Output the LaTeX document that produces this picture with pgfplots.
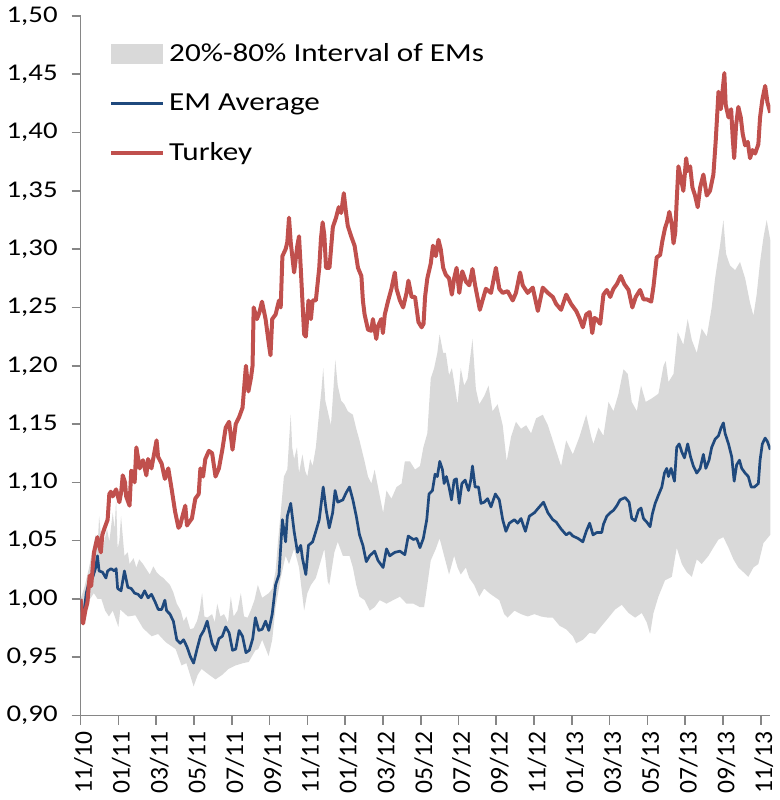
\documentclass[border=0pt]{standalone}
\usepackage{fontspec}
\setmainfont{Carlito}
\newfontfamily\widefont{Carlito}[FakeStretch=1.2]
\usepackage{pgfplots}
\pgfplotsset{compat=1.18}
\usepgfplotslibrary{fillbetween}
\definecolor{turk}{HTML}{C0504D}
\definecolor{emavg}{HTML}{1F497D}
\definecolor{band}{HTML}{D9D9D9}
\definecolor{axgray}{HTML}{868686}
\begin{document}
\begin{tikzpicture}
\begin{axis}[
  scale only axis, width=345.25pt, height=350.25pt,
  xmin=0, xmax=36.5, ymin=0.9, ymax=1.5,
  axis x line*=bottom, axis y line*=left,
  axis line style={axgray, line width=0.8pt, -},
  tick style={axgray, line width=0.8pt},
  tick align=outside, major tick length=4.5pt,
  xtick={0,2,...,36},
  xticklabels={11/10,01/11,03/11,05/11,07/11,09/11,11/11,01/12,03/12,05/12,07/12,09/12,11/12,01/13,03/13,05/13,07/13,09/13,11/13},
  xticklabel style={rotate=90, anchor=east, font=\fontsize{12.8}{14}\selectfont, text=black, yshift=-1.5pt},
  ytick={0.90,0.95,1.00,1.05,1.10,1.15,1.20,1.25,1.30,1.35,1.40,1.45,1.50},
  yticklabel style={font=\widefont\fontsize{12}{14}\selectfont, text=black, xshift=-3.5pt, /pgf/number format/fixed, /pgf/number format/fixed zerofill, /pgf/number format/precision=2, /pgf/number format/use comma},
  /pgf/number format/assume math mode=true,
  legend style={at={(axis description cs:0.041,0.967)}, anchor=north west, draw=none, fill=none, inner sep=0pt, font=\widefont\fontsize{13}{15}\selectfont, row sep=10.5pt},
  legend cell align=left,
  legend image code/.code={\draw[#1] (0pt,0pt) -- (26pt,0pt);},
]
\addplot[name path=up, draw=none, forget plot] coordinates {
(0,1.0)(0.2,1.01)(0.45,1.027)(0.6,1.04)(0.8,1.055)(0.9,1.045)(0.98,1.071)(1.1,1.05)(1.16,1.043)(1.4,1.06)(1.52,1.049)(1.7,1.074)(1.8,1.06)(1.88,1.086)(1.96,1.043)(2.05,1.05)(2.14,1.071)(2.32,1.037)(2.5,1.04)(2.59,1.03)(2.8,1.035)(2.95,1.027)(3.1,1.034)(3.3,1.03)(3.5,1.025)(3.66,1.021)(3.85,1.028)(4.02,1.023)(4.2,1.02)(4.38,1.018)(4.55,1.015)(4.73,1.012)(4.9,1.006)(5.09,0.996)(5.3,0.99)(5.45,0.981)(5.6,0.985)(5.8,0.974)(5.98,0.975)(6.16,0.981)(6.3,0.99)(6.43,1.005)(6.55,0.985)(6.7,0.984)(6.96,0.987)(7.1,0.98)(7.23,0.996)(7.4,0.985)(7.59,0.987)(7.8,0.98)(7.95,1.002)(8.1,0.985)(8.3,0.99)(8.48,1.005)(8.65,0.985)(8.84,0.984)(9.0,0.99)(9.2,0.999)(9.38,1.012)(9.61,1.001)(9.96,1.005)(10.15,1.009)(10.32,1.024)(10.45,1.05)(10.59,1.074)(10.76,1.105)(10.94,1.111)(11.05,1.14)(11.12,1.158)(11.2,1.13)(11.3,1.12)(11.45,1.13)(11.56,1.108)(11.74,1.124)(11.88,1.11)(12.0,1.105)(12.15,1.12)(12.28,1.114)(12.45,1.13)(12.63,1.161)(12.75,1.18)(12.84,1.198)(12.95,1.17)(13.08,1.161)(13.25,1.149)(13.38,1.18)(13.48,1.205)(13.61,1.183)(13.79,1.17)(13.96,1.167)(14.14,1.161)(14.41,1.158)(14.59,1.146)(14.76,1.136)(15.03,1.118)(15.21,1.105)(15.39,1.099)(15.56,1.111)(15.74,1.096)(16.01,1.074)(16.19,1.093)(16.45,1.086)(16.72,1.096)(16.99,1.099)(17.16,1.118)(17.43,1.118)(17.7,1.111)(17.96,1.114)(18.14,1.13)(18.35,1.142)(18.53,1.189)(18.71,1.198)(18.88,1.211)(19.0,1.227)(19.19,1.211)(19.33,1.211)(19.5,1.192)(19.65,1.198)(19.77,1.186)(19.95,1.167)(20.12,1.198)(20.3,1.183)(20.48,1.189)(20.65,1.211)(20.74,1.223)(20.92,1.18)(21.1,1.167)(21.36,1.174)(21.59,1.183)(21.8,1.161)(22.07,1.167)(22.34,1.149)(22.55,1.118)(22.78,1.139)(23.04,1.152)(23.31,1.146)(23.58,1.149)(23.84,1.142)(24.11,1.155)(24.46,1.158)(24.73,1.149)(24.99,1.136)(25.17,1.127)(25.43,1.114)(25.7,1.136)(26.05,1.124)(26.4,1.139)(26.76,1.158)(27.03,1.139)(27.14,1.133)(27.41,1.147)(27.67,1.14)(27.94,1.169)(28.2,1.161)(28.47,1.176)(28.73,1.197)(28.96,1.193)(29.17,1.169)(29.44,1.161)(29.66,1.183)(29.91,1.169)(30.23,1.172)(30.58,1.176)(30.85,1.2)(30.97,1.204)(31.11,1.186)(31.38,1.193)(31.6,1.229)(31.9,1.218)(32.13,1.24)(32.35,1.222)(32.61,1.211)(32.87,1.232)(33.14,1.225)(33.4,1.25)(33.58,1.275)(33.84,1.303)(34.02,1.325)(34.16,1.296)(34.37,1.286)(34.64,1.282)(34.9,1.289)(35.17,1.275)(35.43,1.254)(35.61,1.243)(35.78,1.261)(35.96,1.289)(36.14,1.31)(36.31,1.325)(36.5,1.308)
};
\addplot[name path=lo, draw=none, forget plot] coordinates {
(0,1.0)(0.15,0.985)(0.3,0.99)(0.5,1.0)(0.7,1.005)(0.9,1.0)(1.1,1.0)(1.3,0.99)(1.5,0.985)(1.7,0.99)(2.0,0.976)(2.1,0.991)(2.5,0.985)(2.9,0.986)(3.3,0.975)(3.76,0.968)(4.1,0.97)(4.5,0.963)(5.03,0.957)(5.34,0.943)(5.6,0.945)(5.98,0.925)(6.2,0.935)(6.4,0.94)(6.8,0.935)(7.14,0.931)(7.5,0.935)(7.83,0.94)(8.2,0.943)(8.6,0.945)(8.9,0.946)(9.25,0.956)(9.4,0.957)(9.61,0.965)(9.95,0.951)(10.14,0.965)(10.32,0.993)(10.59,1.018)(10.85,1.037)(11.03,1.03)(11.3,1.043)(11.56,1.027)(11.83,0.99)(12.0,1.005)(12.19,1.012)(12.45,1.018)(12.72,1.033)(12.9,1.043)(13.08,1.015)(13.16,1.012)(13.43,1.04)(13.61,1.049)(13.88,1.037)(14.23,1.037)(14.41,1.027)(14.59,1.012)(14.76,1.002)(15.03,0.999)(15.3,0.99)(15.56,0.993)(15.83,0.999)(16.19,0.996)(16.54,0.999)(16.9,1.002)(17.25,0.996)(17.61,0.996)(17.96,0.993)(18.18,0.993)(18.35,1.012)(18.53,1.033)(18.8,1.043)(19.0,1.052)(19.24,1.037)(19.5,1.021)(19.77,1.037)(19.95,1.027)(20.12,1.021)(20.39,1.027)(20.57,1.018)(20.83,1.012)(21.1,1.002)(21.36,1.009)(21.63,1.005)(21.89,1.002)(22.16,0.999)(22.42,0.987)(22.6,0.984)(22.96,0.99)(23.31,0.987)(23.66,0.985)(24.02,0.987)(24.37,0.985)(24.73,0.984)(24.99,0.984)(25.35,0.977)(25.7,0.974)(26.05,0.968)(26.23,0.962)(26.58,0.965)(26.94,0.971)(27.23,0.97)(27.58,0.977)(27.94,0.984)(28.29,0.991)(28.64,0.995)(29.0,0.988)(29.35,0.984)(29.7,0.988)(29.96,0.98)(30.14,0.97)(30.32,0.988)(30.58,1.002)(30.93,1.016)(31.29,1.019)(31.55,1.044)(31.82,1.03)(32.08,1.023)(32.35,1.019)(32.61,1.034)(32.87,1.03)(33.23,1.037)(33.49,1.044)(33.76,1.051)(34.02,1.053)(34.29,1.044)(34.55,1.034)(34.81,1.027)(35.08,1.023)(35.34,1.019)(35.61,1.027)(35.87,1.03)(36.14,1.048)(36.5,1.055)
};
\addplot[band, draw=none, legend image code/.code={\fill[band] (0pt,-5pt) rectangle (26pt,5pt);}] fill between[of=up and lo];
\addlegendentry{20\%-80\% Interval of EMs}
\addplot[emavg, line width=1.35pt, line join=round] coordinates {
(0,1.0)(0.1,0.988)(0.2,0.992)(0.3,1.005)(0.45,1.015)(0.63,1.018)(0.8,1.027)(0.89,1.037)(0.98,1.024)(1.16,1.023)(1.34,1.018)(1.43,1.024)(1.61,1.026)(1.79,1.024)(1.88,1.026)(1.96,1.009)(2.14,1.007)(2.32,1.024)(2.5,1.01)(2.68,1.009)(2.86,1.005)(3.04,1.004)(3.21,1.001)(3.39,1.007)(3.57,1.001)(3.75,1.004)(3.93,0.998)(4.11,0.991)(4.29,0.991)(4.46,0.999)(4.55,0.99)(4.73,0.987)(4.91,0.981)(5.09,0.965)(5.27,0.962)(5.45,0.965)(5.63,0.959)(5.8,0.951)(5.98,0.945)(6.16,0.957)(6.34,0.968)(6.52,0.973)(6.7,0.981)(6.79,0.974)(6.96,0.962)(7.14,0.956)(7.32,0.966)(7.5,0.968)(7.68,0.976)(7.86,0.971)(8.04,0.956)(8.21,0.957)(8.39,0.973)(8.57,0.968)(8.75,0.954)(8.93,0.956)(9.11,0.966)(9.25,0.984)(9.43,0.973)(9.61,0.974)(9.79,0.981)(9.96,0.973)(10.14,0.987)(10.32,1.012)(10.5,1.021)(10.68,1.068)(10.85,1.049)(10.94,1.071)(11.12,1.082)(11.3,1.058)(11.48,1.04)(11.65,1.046)(11.74,1.035)(11.92,1.021)(12.06,1.046)(12.28,1.049)(12.45,1.058)(12.63,1.068)(12.84,1.096)(12.99,1.077)(13.16,1.061)(13.34,1.074)(13.47,1.093)(13.61,1.083)(13.88,1.085)(14.05,1.091)(14.23,1.096)(14.41,1.085)(14.59,1.071)(14.76,1.055)(14.94,1.046)(15.12,1.032)(15.3,1.037)(15.56,1.041)(15.74,1.033)(16.01,1.027)(16.19,1.043)(16.36,1.037)(16.63,1.04)(16.9,1.041)(17.16,1.038)(17.34,1.054)(17.61,1.051)(17.79,1.052)(17.96,1.044)(18.14,1.052)(18.32,1.068)(18.44,1.09)(18.62,1.093)(18.76,1.107)(18.88,1.105)(19.01,1.118)(19.15,1.111)(19.24,1.099)(19.36,1.105)(19.5,1.096)(19.63,1.085)(19.77,1.102)(19.89,1.103)(20.04,1.082)(20.18,1.099)(20.35,1.102)(20.53,1.093)(20.65,1.102)(20.74,1.114)(20.88,1.096)(21.06,1.096)(21.19,1.082)(21.36,1.083)(21.54,1.086)(21.72,1.079)(21.95,1.09)(22.16,1.085)(22.34,1.068)(22.51,1.058)(22.69,1.065)(22.96,1.068)(23.13,1.065)(23.31,1.069)(23.54,1.058)(23.75,1.071)(24.02,1.074)(24.28,1.079)(24.5,1.083)(24.73,1.074)(24.99,1.068)(25.17,1.066)(25.43,1.06)(25.7,1.055)(25.88,1.057)(26.05,1.054)(26.32,1.052)(26.58,1.049)(26.76,1.058)(26.94,1.065)(27.12,1.055)(27.32,1.057)(27.58,1.057)(27.67,1.064)(27.85,1.071)(28.03,1.074)(28.2,1.076)(28.38,1.08)(28.55,1.085)(28.82,1.087)(29.03,1.083)(29.17,1.069)(29.35,1.067)(29.52,1.076)(29.66,1.078)(29.79,1.069)(29.96,1.066)(30.14,1.062)(30.26,1.073)(30.41,1.082)(30.58,1.089)(30.76,1.096)(30.9,1.108)(31.02,1.112)(31.11,1.105)(31.25,1.112)(31.43,1.101)(31.55,1.13)(31.68,1.133)(31.82,1.126)(31.96,1.121)(32.13,1.133)(32.28,1.122)(32.43,1.114)(32.61,1.108)(32.79,1.112)(32.96,1.124)(33.09,1.112)(33.26,1.119)(33.4,1.13)(33.58,1.137)(33.76,1.14)(33.9,1.147)(34.02,1.151)(34.11,1.142)(34.29,1.133)(34.46,1.122)(34.59,1.101)(34.72,1.115)(34.87,1.119)(34.99,1.112)(35.17,1.108)(35.34,1.105)(35.49,1.096)(35.66,1.096)(35.87,1.099)(35.96,1.119)(36.08,1.133)(36.23,1.138)(36.35,1.135)(36.5,1.128)
};
\addlegendentry{EM Average}
\addplot[turk, line width=2pt, line join=round] coordinates {
(0,1.0)(0.08,0.985)(0.13,0.979)(0.25,0.99)(0.36,0.997)(0.48,1.02)(0.56,1.011)(0.63,1.025)(0.71,1.04)(0.89,1.053)(1.0,1.045)(1.07,1.04)(1.15,1.055)(1.25,1.06)(1.43,1.068)(1.52,1.09)(1.6,1.092)(1.7,1.088)(1.88,1.094)(2.05,1.083)(2.15,1.092)(2.23,1.106)(2.35,1.1)(2.41,1.088)(2.59,1.08)(2.68,1.11)(2.8,1.108)(2.86,1.1)(2.95,1.13)(3.13,1.112)(3.3,1.119)(3.48,1.106)(3.57,1.12)(3.75,1.112)(3.93,1.128)(4.02,1.136)(4.1,1.122)(4.29,1.116)(4.46,1.103)(4.64,1.112)(4.82,1.094)(5.0,1.075)(5.18,1.061)(5.27,1.063)(5.36,1.069)(5.54,1.08)(5.63,1.063)(5.75,1.066)(5.89,1.069)(6.07,1.086)(6.25,1.09)(6.34,1.112)(6.48,1.105)(6.6,1.12)(6.79,1.127)(6.96,1.125)(7.14,1.105)(7.32,1.112)(7.5,1.128)(7.68,1.147)(7.86,1.152)(8.04,1.128)(8.21,1.15)(8.39,1.156)(8.57,1.164)(8.75,1.2)(8.88,1.178)(9.02,1.19)(9.1,1.2)(9.16,1.25)(9.33,1.24)(9.45,1.245)(9.6,1.255)(9.79,1.24)(9.96,1.219)(10.05,1.209)(10.14,1.24)(10.32,1.244)(10.5,1.256)(10.59,1.25)(10.68,1.294)(10.85,1.3)(10.94,1.306)(11.03,1.327)(11.12,1.306)(11.3,1.28)(11.47,1.303)(11.56,1.311)(11.65,1.284)(11.83,1.227)(11.92,1.225)(12.06,1.256)(12.19,1.24)(12.28,1.256)(12.45,1.256)(12.63,1.284)(12.72,1.309)(12.81,1.323)(12.9,1.312)(12.99,1.284)(13.17,1.284)(13.35,1.319)(13.52,1.327)(13.66,1.336)(13.79,1.331)(13.93,1.348)(14.05,1.331)(14.14,1.32)(14.32,1.311)(14.5,1.303)(14.68,1.284)(14.86,1.277)(14.94,1.256)(15.03,1.244)(15.21,1.231)(15.38,1.23)(15.47,1.24)(15.65,1.223)(15.74,1.234)(15.91,1.24)(16.0,1.228)(16.1,1.244)(16.28,1.256)(16.45,1.266)(16.63,1.28)(16.72,1.266)(16.9,1.256)(17.07,1.25)(17.25,1.2625)(17.35,1.273)(17.52,1.259)(17.7,1.259)(17.88,1.2375)(18.05,1.233)(18.15,1.236)(18.23,1.259)(18.35,1.275)(18.53,1.2875)(18.65,1.303)(18.8,1.294)(18.94,1.308)(19.06,1.3)(19.19,1.284)(19.33,1.278)(19.5,1.275)(19.65,1.261)(19.77,1.275)(19.9,1.284)(20.04,1.2625)(20.2,1.281)(20.4,1.272)(20.57,1.269)(20.74,1.283)(20.88,1.269)(21.0,1.259)(21.13,1.248)(21.27,1.256)(21.45,1.266)(21.72,1.2625)(21.98,1.284)(22.16,1.266)(22.34,1.2625)(22.6,1.264)(22.87,1.256)(23.04,1.2625)(23.26,1.28)(23.4,1.269)(23.66,1.2625)(23.93,1.267)(24.2,1.247)(24.46,1.267)(24.73,1.2625)(24.99,1.259)(25.17,1.253)(25.43,1.248)(25.7,1.261)(25.96,1.253)(26.23,1.247)(26.4,1.241)(26.58,1.233)(26.76,1.244)(26.94,1.246)(27.08,1.228)(27.2,1.241)(27.3,1.24)(27.5,1.236)(27.67,1.261)(27.85,1.265)(28.03,1.259)(28.2,1.266)(28.38,1.27)(28.59,1.277)(28.78,1.27)(29.0,1.265)(29.2,1.25)(29.38,1.259)(29.61,1.265)(29.79,1.257)(29.96,1.257)(30.2,1.255)(30.32,1.268)(30.49,1.293)(30.67,1.295)(30.79,1.307)(30.93,1.318)(31.07,1.325)(31.16,1.332)(31.29,1.321)(31.38,1.305)(31.47,1.314)(31.55,1.342)(31.64,1.371)(31.78,1.36)(31.9,1.35)(32.05,1.378)(32.13,1.367)(32.26,1.371)(32.38,1.353)(32.52,1.346)(32.66,1.336)(32.79,1.353)(32.96,1.364)(33.14,1.346)(33.31,1.35)(33.49,1.364)(33.61,1.392)(33.76,1.435)(33.88,1.42)(33.99,1.438)(34.07,1.451)(34.14,1.424)(34.29,1.413)(34.43,1.42)(34.51,1.396)(34.59,1.378)(34.69,1.406)(34.81,1.422)(34.94,1.413)(35.04,1.399)(35.17,1.389)(35.31,1.392)(35.43,1.378)(35.56,1.385)(35.7,1.382)(35.87,1.39)(35.96,1.413)(36.08,1.428)(36.23,1.44)(36.35,1.426)(36.5,1.417)
};
\addlegendentry{Turkey}
\end{axis}
\end{tikzpicture}
\end{document}
